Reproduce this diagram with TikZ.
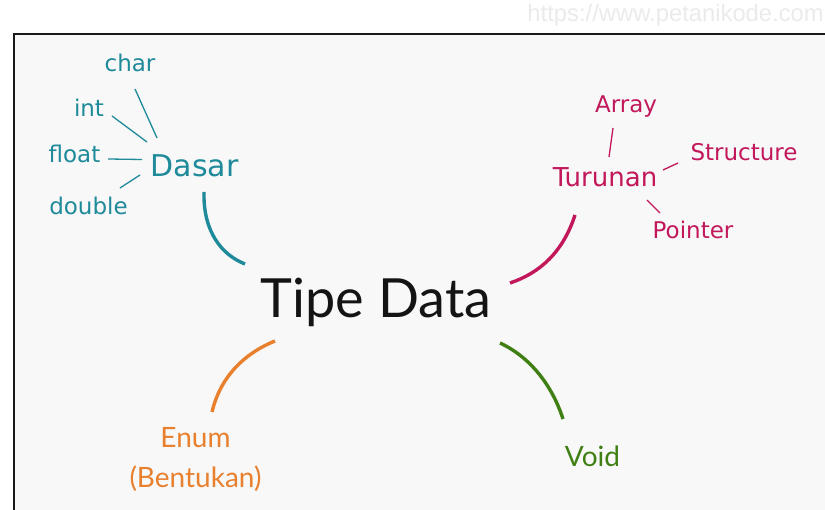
\documentclass[tikz,border=0pt]{standalone}
\usepackage{fontspec}
\setmainfont{Lato}
\newfontfamily\djv{DejaVu Sans}
\newfontfamily\lib{Liberation Sans}
\definecolor{bgc}{HTML}{F8F8F8}
\definecolor{teal1}{HTML}{1F8A9A}
\definecolor{pink1}{HTML}{C2185B}
\definecolor{orange1}{HTML}{E8802E}
\definecolor{green1}{HTML}{3F7F14}
\definecolor{wm}{HTML}{EBEBEB}
\tikzset{
  lbl/.style={inner sep=0pt, anchor=base},
  sub/.style={lbl, font=\djv\fontsize{23}{28}\selectfont},
  thin/.style={line width=1.3pt},
  thick/.style={line width=3.4pt},
}
\begin{document}
\begin{tikzpicture}[x=1pt,y=-1pt]
\useasboundingbox (0,0) rectangle (825,510);
\fill[white] (0,0) rectangle (825,510);
\fill[bgc] (14,34) rectangle (825,510);
\draw[line width=2pt, color={black!90}] (14,511) -- (14,34) -- (826,34);
\node[lbl, anchor=base east, text=wm, font=\lib\fontsize{23.8}{27}\selectfont] (wmk) at (824,22) {https://www.petanikode.com};

% centre
\node[lbl, font=\fontsize{54}{65}\selectfont, text={black!92}] (td) at (376,318) {Tipe Data};

% Dasar
\node[lbl, font=\djv\fontsize{30}{36}\selectfont, text=teal1] (dasar) at (194.5,177) {Dasar};
\node[sub, text=teal1] (char) at (130,72) {char};
\node[sub, text=teal1] (int) at (89,117) {int};
\node[sub, text=teal1] (float) at (74.5,163) {float};
\node[sub, text=teal1] (double) at (88.5,215) {double};
\coordinate (c1) at (135,89);  \coordinate (c2) at (157,138);
\coordinate (i1) at (112,116); \coordinate (i2) at (147,142);
\coordinate (f1) at (108,159); \coordinate (f2) at (142,159.5);
\coordinate (d1) at (120,188); \coordinate (d2) at (140,175);
\draw[thin, teal1] (c1) -- (c2);
\draw[thin, teal1] (i1) -- (i2);
\draw[thin, teal1] (f1) -- (f2);
\draw[thin, teal1] (d1) -- (d2);
\coordinate (da) at (204,192); \coordinate (db) at (245,264);
\draw[thick, teal1] (da) .. controls (203,232) and (222,255) .. (db);

% Turunan
\node[lbl, font=\djv\fontsize{26}{32}\selectfont, text=pink1] (turunan) at (605,187) {Turunan};
\node[sub, text=pink1] (array) at (626,113) {Array};
\node[sub, text=pink1] (structure) at (744,161) {Structure};
\node[sub, text=pink1] (pointer) at (693,239) {Pointer};
\coordinate (a1) at (613,128); \coordinate (a2) at (609,157);
\coordinate (s1) at (663,170); \coordinate (s2) at (678,163);
\coordinate (p1) at (647,200); \coordinate (p2) at (660,213);
\draw[thin, pink1] (a1) -- (a2);
\draw[thin, pink1] (s1) -- (s2);
\draw[thin, pink1] (p1) -- (p2);
\coordinate (ta) at (575,215); \coordinate (tb) at (510,283);
\draw[thick, pink1] (ta) .. controls (563,252) and (540,273) .. (tb);

% Enum
\node[lbl, font=\fontsize{28}{40}\selectfont, text=orange1, align=center, anchor=base] (enum) at (195.5,488) {Enum\\(Bentukan)};
\coordinate (ea) at (275,341); \coordinate (eb) at (212,412);
\draw[thick, orange1] (ea) .. controls (243,354) and (220,378) .. (eb);

% Void
\node[lbl, font=\fontsize{28}{34}\selectfont, text=green1] (void) at (592.5,467) {Void};
\coordinate (va) at (500,343); \coordinate (vb) at (563,419);
\draw[thick, green1] (va) .. controls (530,357) and (552,385) .. (vb);
\end{tikzpicture}
\end{document}
